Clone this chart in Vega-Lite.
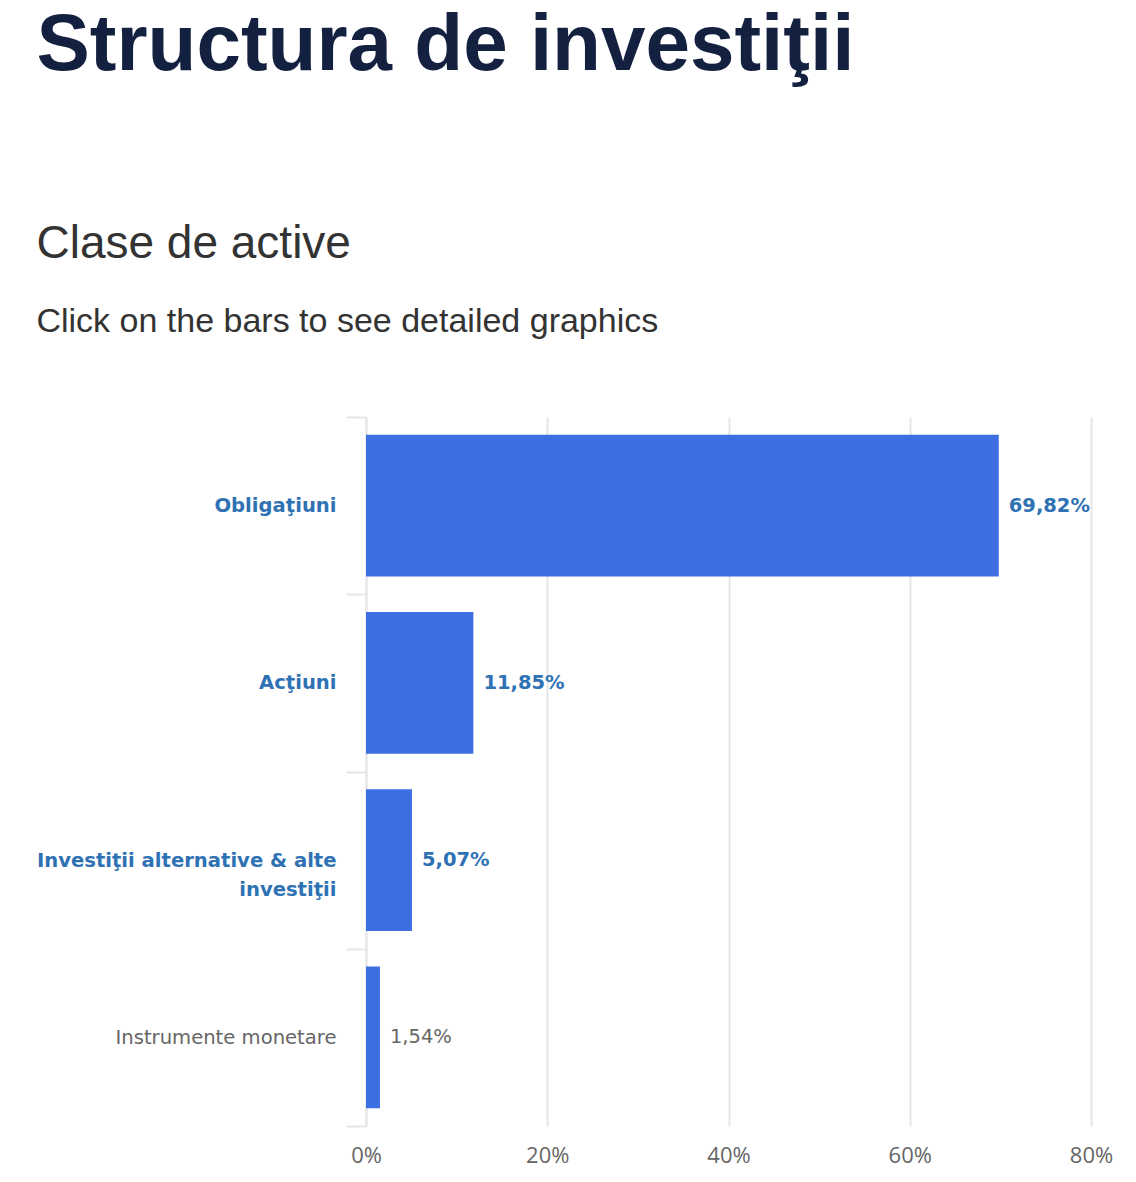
{
  "$schema": "https://vega.github.io/schema/vega-lite/v6.json",
  "padding": {"left": 36, "top": 6, "right": 0, "bottom": 0},
  "background": "white",
  "config": {
    "view": {"stroke": null},
    "locale": {"number": {"decimal": ",", "thousands": ".", "grouping": [3], "currency": ["", " €"]}},
    "concat": {"spacing": 0}
  },
  "title": {
    "text": "Structura de investiţii",
    "anchor": "start",
    "font": "Liberation Sans",
    "fontSize": 80,
    "fontWeight": "bold",
    "color": "#13203f",
    "offset": 134
  },
  "vconcat": [
    {
      "width": 725,
      "height": 709,
      "title": {
        "text": "Clase de active",
        "subtitle": "Click on the bars to see detailed graphics",
        "anchor": "start",
        "font": "Liberation Sans",
        "fontSize": 46,
        "fontWeight": "normal",
        "color": "#333333",
        "subtitleFont": "Liberation Sans",
        "subtitleFontSize": 34,
        "subtitleColor": "#333333",
        "subtitlePadding": 37,
        "offset": 67
      },
      "data": {
        "values": [
          {"clasa": "Obligaţiuni", "pondere": 0.6982},
          {"clasa": "Acţiuni", "pondere": 0.1185},
          {"clasa": "Investiţii alternative & alte investiţii", "pondere": 0.0507},
          {"clasa": "Instrumente monetare", "pondere": 0.0154}
        ]
      },
      "encoding": {
        "y": {
          "field": "clasa",
          "type": "nominal",
          "sort": null,
          "title": null,
          "scale": {"paddingInner": 0, "paddingOuter": 0},
          "axis": {
            "tickBand": "extent",
            "domainColor": "#e6e6e6",
            "domainWidth": 2,
            "tickColor": "#e6e6e6",
            "tickWidth": 2,
            "tickSize": 20,
            "labelPadding": 10,
            "labelFont": "DejaVu Sans",
            "labelFontSize": 19.6,
            "labelLineHeight": 29,
            "labelLimit": 400,
            "labelExpr": "datum.value == 'Investiţii alternative & alte investiţii' ? ['Investiţii alternative & alte', 'investiţii'] : datum.value",
            "labelColor": {"condition": {"test": "datum.value == 'Instrumente monetare'", "value": "#666666"}, "value": "#2f72b4"},
            "labelFontWeight": {"condition": {"test": "datum.value == 'Instrumente monetare'", "value": "normal"}, "value": "bold"}
          }
        }
      },
      "layer": [
        {
          "mark": {"type": "bar", "color": "#3d6fe3", "height": {"band": 0.8}},
          "encoding": {
            "x": {
              "field": "pondere",
              "type": "quantitative",
              "title": null,
              "scale": {"domain": [0, 0.8], "nice": false},
              "axis": {
                "format": ".0%",
                "values": [0, 0.2, 0.4, 0.6, 0.8],
                "domain": false,
                "ticks": false,
                "grid": true,
                "gridColor": "#e6e6e6",
                "gridWidth": 2,
                "labelFlush": false,
                "labelPadding": 19,
                "labelFont": "Open Sans",
                "labelFontSize": 22,
                "labelColor": "#666666"
              }
            }
          }
        },
        {
          "transform": [{"filter": "datum.clasa != 'Instrumente monetare'"}],
          "mark": {"type": "text", "align": "left", "baseline": "middle", "dx": 10, "font": "DejaVu Sans", "fontSize": 19.5, "fontWeight": "bold", "color": "#2f72b4"},
          "encoding": {
            "x": {"field": "pondere", "type": "quantitative"},
            "text": {"field": "pondere", "type": "quantitative", "format": ".2%"}
          }
        },
        {
          "transform": [{"filter": "datum.clasa == 'Instrumente monetare'"}],
          "mark": {"type": "text", "align": "left", "baseline": "middle", "dx": 10, "font": "DejaVu Sans", "fontSize": 19.5, "fontWeight": "normal", "color": "#666666"},
          "encoding": {
            "x": {"field": "pondere", "type": "quantitative"},
            "text": {"field": "pondere", "type": "quantitative", "format": ".2%"}
          }
        }
      ]
    }
  ]
}
